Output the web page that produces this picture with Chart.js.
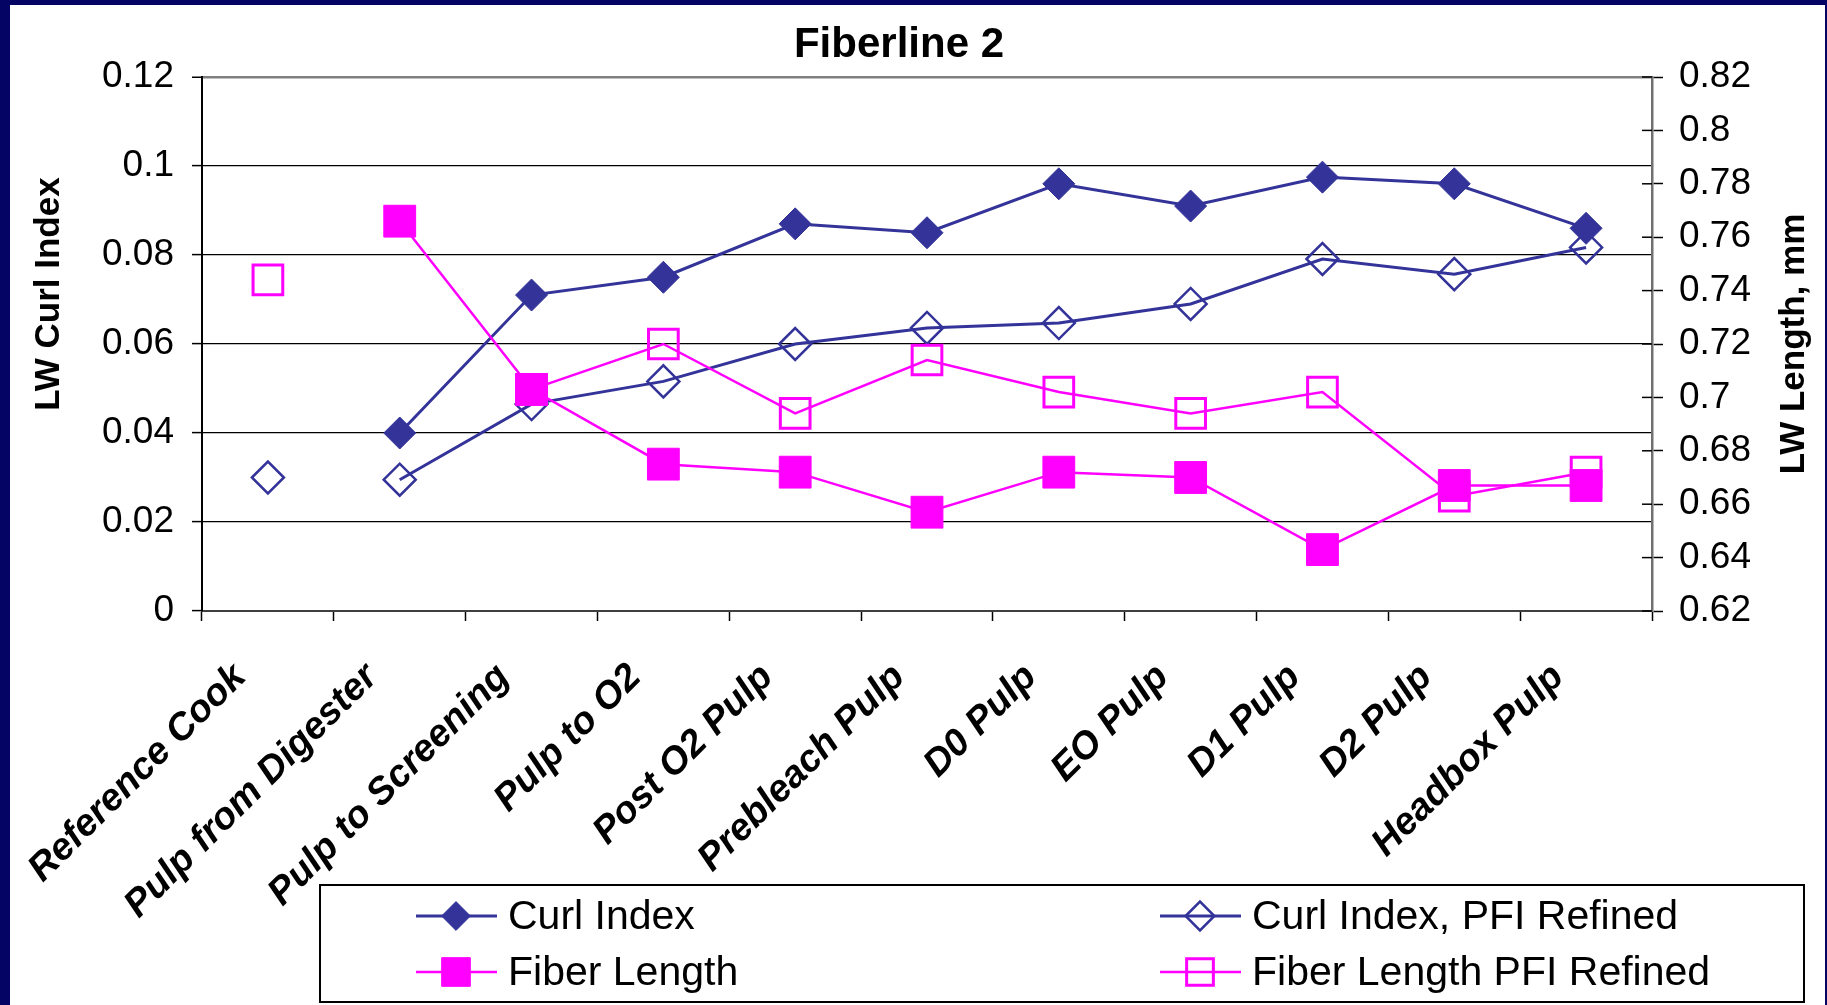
<!DOCTYPE html>
<html>
<head>
<meta charset="utf-8">
<title>Fiberline 2</title>
<script src="https://cdn.jsdelivr.net/npm/chart.js@4.4.1/dist/chart.umd.min.js"></script>
<style>
  html, body { margin: 0; padding: 0; background: #040464; }
  #frame { position: absolute; left: 10px; top: 5px; width: 1815px; height: 1000px; background: #fff; }
</style>
</head>
<body>
<div id="frame"><canvas id="myChart"></canvas></div>
<script>
const FONT = "'Liberation Sans', Arial, sans-serif";
const NAVY = '#333399';
const MAGENTA = '#ff00ff';

const chartTitle = 'Fiberline 2';
const curlTitle = 'LW Curl Index';
const lengthTitle = 'LW Length, mm';

const categories = ['Reference Cook', 'Pulp from Digester', 'Pulp to Screening', 'Pulp to O2',
  'Post O2 Pulp', 'Prebleach Pulp', 'D0 Pulp', 'EO Pulp', 'D1 Pulp', 'D2 Pulp', 'Headbox Pulp'];

// curl index (left axis)
const curlIndex    = [null, 0.040, 0.071, 0.075, 0.087, 0.085, 0.096, 0.091, 0.0975, 0.096, 0.086];
const curlIndexPfi = [0.030, 0.0295, 0.0465, 0.0516, 0.060, 0.0636, 0.0647, 0.069, 0.0791, 0.0757, 0.0817];
// length weighted fiber length, mm (right axis)
const fiberLength    = [null, 0.766, 0.703, 0.675, 0.672, 0.657, 0.672, 0.670, 0.643, 0.667, 0.667];
const fiberLengthPfi = [0.744, null, 0.703, 0.720, 0.694, 0.714, 0.702, 0.694, 0.702, 0.663, 0.672];

const curlTicks = [0, 0.02, 0.04, 0.06, 0.08, 0.1, 0.12];
const lengthTicks = [0.62, 0.64, 0.66, 0.68, 0.7, 0.72, 0.74, 0.76, 0.78, 0.8, 0.82];

const fmt = v => String(Number(v.toFixed(2)));

// the reference cook is a lab sample, so it is not joined to the mill line
const skipRefCook = ctx => ctx.p0DataIndex === 0 ? 'transparent' : undefined;

function drawMarker(ctx, style, r, x, y, fill, stroke, lw) {
  ctx.beginPath();
  if (style === 'rectRot') {
    ctx.moveTo(x - r, y); ctx.lineTo(x, y - r); ctx.lineTo(x + r, y); ctx.lineTo(x, y + r); ctx.closePath();
  } else {
    const h = r * Math.SQRT1_2;
    ctx.rect(x - h, y - h, 2 * h, 2 * h);
  }
  if (fill !== 'transparent') { ctx.fillStyle = fill; ctx.fill(); }
  ctx.lineWidth = lw; ctx.strokeStyle = stroke; ctx.stroke();
}

const decorations = {
  id: 'decorations',
  afterDraw(chart) {
    const { ctx, chartArea: a, scales } = chart;
    ctx.save();

    // inner half of the cross ticks on the length axis
    ctx.strokeStyle = '#000';
    ctx.lineWidth = 1.5;
    lengthTicks.forEach(v => {
      const y = scales.y1.getPixelForValue(v);
      ctx.beginPath(); ctx.moveTo(a.right - 10, y); ctx.lineTo(a.right, y); ctx.stroke();
    });

    // chart title
    ctx.fillStyle = '#000';
    ctx.textAlign = 'center';
    ctx.textBaseline = 'alphabetic';
    ctx.font = `bold 42px ${FONT}`;
    ctx.fillText(chartTitle, 889, 52);

    // axis titles
    ctx.font = `bold 35px ${FONT}`;
    ctx.textBaseline = 'middle';
    [[curlTitle, 39, 289], [lengthTitle, 1784, 339]].forEach(([t, x, y]) => {
      ctx.save(); ctx.translate(x, y); ctx.rotate(-Math.PI / 2); ctx.fillText(t, 0, 0); ctx.restore();
    });

    // legend box, two columns
    ctx.fillStyle = '#fff';
    ctx.fillRect(310, 880, 1484, 117);
    ctx.lineWidth = 2;
    ctx.strokeStyle = '#000';
    ctx.strokeRect(310, 880, 1484, 117);
    const cols = [446, 1190];
    const rows = [911, 967];
    ctx.font = `41px ${FONT}`;
    ctx.textAlign = 'left';
    ctx.textBaseline = 'alphabetic';
    chart.data.datasets.forEach((ds, i) => {
      const cx = cols[i % 2], cy = rows[Math.floor(i / 2)];
      ctx.strokeStyle = ds.borderColor;
      ctx.lineWidth = ds.borderWidth;
      ctx.beginPath(); ctx.moveTo(cx - 40, cy); ctx.lineTo(cx + 41, cy); ctx.stroke();
      drawMarker(ctx, ds.pointStyle, ds.pointRadius * 0.9, cx, cy, ds.pointBackgroundColor, ds.pointBorderColor, ds.pointBorderWidth);
      ctx.fillStyle = '#000';
      ctx.fillText(ds.label, cx + 52, cy + 13);
    });

    ctx.restore();
  }
};

const setup = () => {
  const ctxt = document.getElementById('myChart').getContext('2d');
  Chart.defaults.font.family = FONT;
  Chart.defaults.color = '#000';

  new Chart(ctxt, {
    type: 'line',
    data: {
      labels: categories,
      datasets: [
        {
          label: 'Curl Index', data: curlIndex, yAxisID: 'y', order: 4,
          borderColor: NAVY, borderWidth: 3,
          pointStyle: 'rectRot', pointRadius: 16, pointBackgroundColor: NAVY, pointBorderColor: NAVY, pointBorderWidth: 1
        },
        {
          label: 'Curl Index, PFI Refined', data: curlIndexPfi, yAxisID: 'y', order: 3,
          borderColor: NAVY, borderWidth: 3, segment: { borderColor: skipRefCook },
          pointStyle: 'rectRot', pointRadius: 16, pointBackgroundColor: 'transparent', pointBorderColor: NAVY, pointBorderWidth: 2.5
        },
        {
          label: 'Fiber Length', data: fiberLength, yAxisID: 'y1', order: 1,
          borderColor: MAGENTA, borderWidth: 2.5,
          pointStyle: 'rect', pointRadius: 22.5, pointBackgroundColor: MAGENTA, pointBorderColor: MAGENTA, pointBorderWidth: 1
        },
        {
          label: 'Fiber Length PFI Refined', data: fiberLengthPfi, yAxisID: 'y1', order: 2,
          borderColor: MAGENTA, borderWidth: 2.5,
          pointStyle: 'rect', pointRadius: 21, pointBackgroundColor: 'transparent', pointBorderColor: MAGENTA, pointBorderWidth: 3
        }
      ]
    },
    options: {
      responsive: true,
      maintainAspectRatio: false,
      animation: false,
      events: [],
      layout: { padding: { top: 72, left: 0, right: 0, bottom: 0 } },
      plugins: { legend: { display: false }, tooltip: { enabled: false } },
      scales: {
        x: {
          offset: true,
          afterFit: s => { s.height = 394; },
          grid: { offset: true, drawOnChartArea: false, tickLength: 10, tickColor: '#000', tickWidth: 1.5 },
          border: { color: '#404040', width: 2 },
          ticks: {
            autoSkip: false, maxRotation: 45, minRotation: 45, labelOffset: -28, padding: 34,
            font: { size: 38, weight: 'bold', style: 'italic' }
          }
        },
        y: {
          position: 'left', min: 0, max: 0.12,
          afterFit: s => { s.width = 192; },
          afterBuildTicks: s => { s.ticks = curlTicks.map(v => ({ value: v })); },
          grid: {
            color: c => c.tick && c.tick.value === 0.12 ? '#808080' : '#000',
            lineWidth: c => c.tick && c.tick.value === 0.12 ? 2.5 : 1.2,
            tickLength: 10, tickColor: '#000', tickWidth: 1.5
          },
          border: { color: '#000', width: 2 },
          ticks: { padding: 18, font: { size: 37 }, callback: v => fmt(v) }
        },
        y1: {
          position: 'right', min: 0.62, max: 0.82,
          afterFit: s => { s.width = 173; },
          afterBuildTicks: s => { s.ticks = lengthTicks.map(v => ({ value: v })); },
          grid: { drawOnChartArea: false, tickLength: 11, tickColor: '#000', tickWidth: 1.5 },
          border: { color: '#707070', width: 2.5 },
          ticks: { padding: 16, font: { size: 37 }, callback: v => fmt(v) }
        }
      }
    },
    plugins: [decorations]
  });
};

window.addEventListener('DOMContentLoaded', setup);
</script>
</body>
</html>
